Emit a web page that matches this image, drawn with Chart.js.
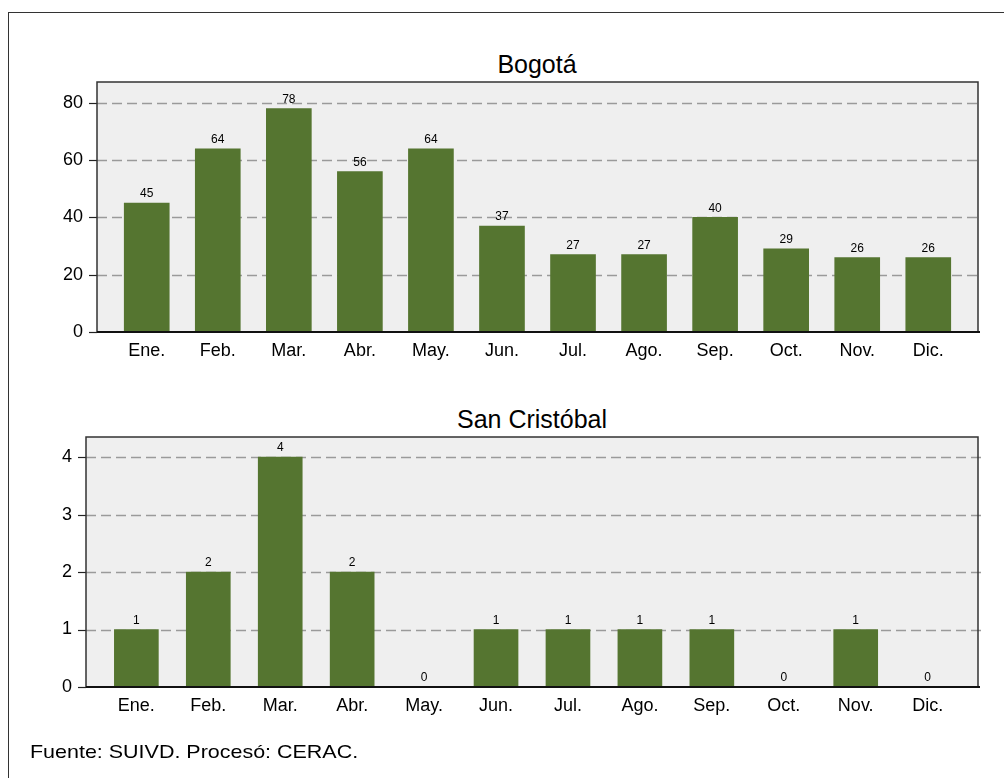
<!DOCTYPE html>
<html lang="es">
<head>
<meta charset="utf-8">
<title>Bogotá y San Cristóbal por mes</title>
<script src="https://cdn.jsdelivr.net/npm/chart.js@4.4.1/dist/chart.umd.min.js"></script>
<style>
  html, body { margin: 0; padding: 0; background: #fff; overflow: hidden; }
  body { width: 1004px; height: 778px; position: relative; font-family: "Liberation Sans", Arial, sans-serif; }
  .frame { position: absolute; left: 8px; top: 12px; width: 1100px; height: 900px;
           border-left: 1px solid #333; border-top: 1px solid #333; }
  .title { position: absolute; font-size: 25px; line-height: 25px; color: #000; text-align: center; width: 400px; white-space: nowrap; }
  .note { position: absolute; left: 30px; top: 742px; font-size: 19px; line-height: 19px; color: #000; white-space: nowrap;
          transform: scaleX(1.13); transform-origin: 0 0; }
  canvas { position: absolute; left: 0; }
</style>
</head>
<body>
<div class="frame"></div>
<div class="title" style="left:337px; top:52px;">Bogotá</div>
<div class="title" style="left:332px; top:407px;">San Cristóbal</div>
<canvas id="c1" width="1004" height="380" style="top:0px;width:1004px;height:380px;"></canvas>
<canvas id="c2" width="1004" height="398" style="top:380px;width:1004px;height:398px;"></canvas>
<div class="note">Fuente: SUIVD. Procesó: CERAC.</div>
<script>
// Month labels shared by both panels
const months = ["Ene.", "Feb.", "Mar.", "Abr.", "May.", "Jun.", "Jul.", "Ago.", "Sep.", "Oct.", "Nov.", "Dic."];
// Monthly counts
const bogota = [45, 64, 78, 56, 64, 37, 27, 27, 40, 29, 26, 26];
const sanCristobal = [1, 2, 4, 2, 0, 1, 1, 1, 1, 0, 1, 0];
// Y-axis ticks per panel
const bogotaTicks = [0, 20, 40, 60, 80];
const sanCristobalTicks = [0, 1, 2, 3, 4];

const BAR = "#557530";
const FONT = "'Liberation Sans', Arial, sans-serif";

// Plot frame: grey panel, dashed grid, outer tick marks, border and base line
const framePlugin = {
  id: "frame",
  beforeDatasetsDraw(chart) {
    const { ctx, chartArea: a, scales } = chart;
    ctx.save();
    ctx.fillStyle = "#efefef";
    ctx.fillRect(a.left, a.top, a.right - a.left, a.bottom - a.top);
    const ys = scales.y;
    ys.ticks.forEach(t => {
      const y = Math.round(ys.getPixelForValue(t.value)) + 0.5;
      if (t.value !== 0) {
        ctx.strokeStyle = "#9a9a9a";
        ctx.lineWidth = 1.5;
        ctx.setLineDash([10, 5]);
        ctx.beginPath();
        ctx.moveTo(a.left, y);
        ctx.lineTo(a.right + 3, y);
        ctx.stroke();
      }
      ctx.setLineDash([]);
      ctx.strokeStyle = "#222";
      ctx.lineWidth = 1.2;
      ctx.beginPath();
      ctx.moveTo(a.left - 8, y);
      ctx.lineTo(a.left, y);
      ctx.stroke();
    });
    ctx.restore();
  },
  afterDatasetsDraw(chart) {
    const { ctx, chartArea: a } = chart;
    ctx.save();
    ctx.strokeStyle = "#333";
    ctx.lineWidth = 1.5;
    ctx.beginPath();
    ctx.moveTo(a.left, a.bottom);
    ctx.lineTo(a.left, a.top);
    ctx.lineTo(a.right, a.top);
    ctx.lineTo(a.right, a.bottom);
    ctx.stroke();
    ctx.strokeStyle = "#111";
    ctx.lineWidth = 2;
    ctx.beginPath();
    ctx.moveTo(a.left, a.bottom);
    ctx.lineTo(a.right + 2, a.bottom);
    ctx.stroke();
    ctx.restore();
  }
};

// Value printed above each bar
const valuePlugin = {
  id: "values",
  afterDatasetsDraw(chart) {
    const { ctx } = chart;
    const meta = chart.getDatasetMeta(0);
    const data = chart.data.datasets[0].data;
    ctx.save();
    ctx.font = "12px " + FONT;
    ctx.fillStyle = "#000";
    ctx.textAlign = "center";
    ctx.textBaseline = "bottom";
    meta.data.forEach((bar, i) => {
      ctx.fillText(String(data[i].y), bar.x, bar.y - 3);
    });
    ctx.restore();
  }
};

function makeChart(id, values, ticks, yMax, cfg) {
  return new Chart(document.getElementById(id), {
    type: "bar",
    data: {
      datasets: [{
        data: values.map((v, i) => ({ x: i, y: v })),
        backgroundColor: BAR,
        borderWidth: 0,
        barThickness: cfg.barWidth
      }]
    },
    options: {
      responsive: false,
      animation: false,
      devicePixelRatio: 1,
      layout: { padding: { top: cfg.top, right: 26, left: 0, bottom: 0 } },
      plugins: { legend: { display: false }, tooltip: { enabled: false }, title: { display: false } },
      scales: {
        x: {
          type: "linear",
          offset: false,
          min: -0.7,
          max: months.length - 1 + 0.7,
          grid: { display: false, drawTicks: false },
          border: { display: false },
          afterBuildTicks: s => { s.ticks = months.map((_, i) => ({ value: i })); },
          afterFit: s => { s.height = cfg.xHeight; },
          ticks: {
            autoSkip: false,
            maxRotation: 0,
            padding: 8,
            color: "#000",
            font: { family: FONT, size: 18 },
            callback: v => months[v]
          }
        },
        y: {
          min: 0,
          max: yMax,
          grid: { display: false, drawTicks: false },
          border: { display: false },
          afterBuildTicks: s => { s.ticks = ticks.map(v => ({ value: v })); },
          afterFit: s => { s.width = cfg.yWidth; },
          ticks: {
            padding: 14,
            color: "#000",
            font: { family: FONT, size: 18 }
          }
        }
      }
    },
    plugins: [framePlugin, valuePlugin]
  });
}

makeChart("c1", bogota, bogotaTicks, 87.3, { top: 82, xHeight: 48, yWidth: 97, barWidth: 45 });
makeChart("c2", sanCristobal, sanCristobalTicks, 4.35, { top: 57, xHeight: 91, yWidth: 86, barWidth: 44 });
</script>
</body>
</html>
